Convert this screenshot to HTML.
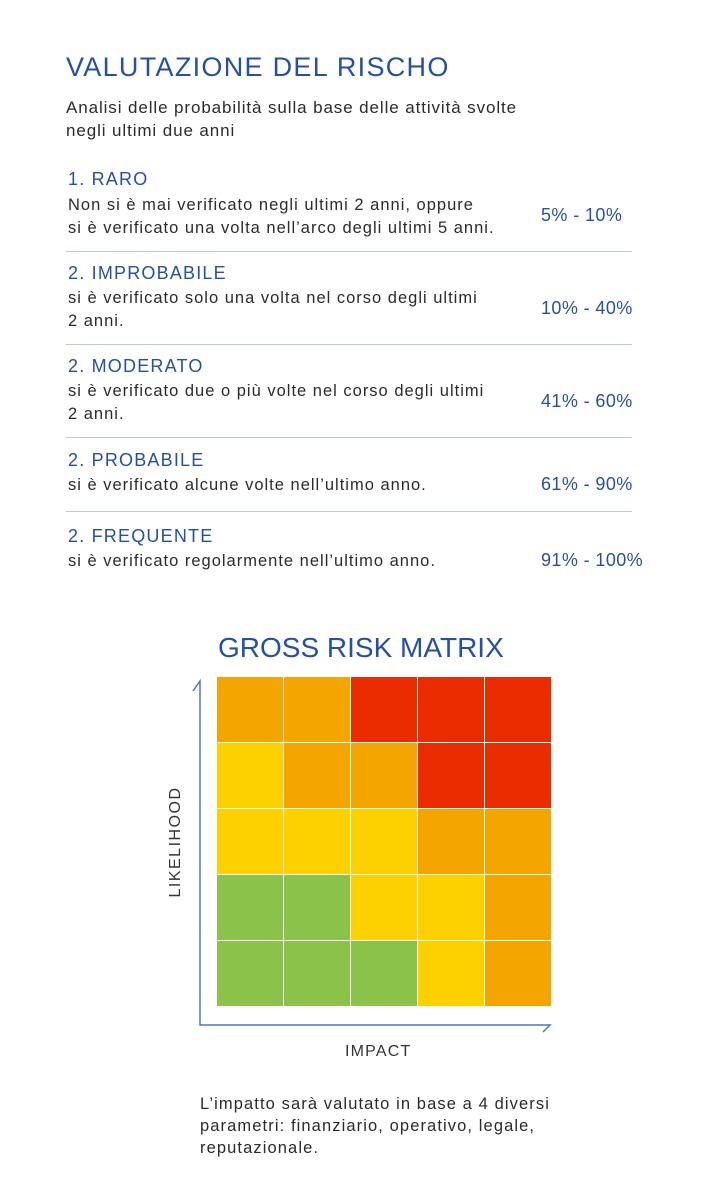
<!DOCTYPE html>
<html><head><meta charset="utf-8"><style>
body{margin:0;width:724px;height:1200px;background:#fff;position:relative;font-family:"Liberation Sans",sans-serif;overflow:hidden}
.a{position:absolute;white-space:nowrap}
.b{color:#2451a6}
.t{color:#2b2b2b;font-size:16.5px;line-height:23px;letter-spacing:1px}
.h{font-size:18px;letter-spacing:1.2px}
.p{font-size:18px;color:#2451a6;letter-spacing:0.4px}
.sep{position:absolute;left:66px;width:566px;height:1px;background:#b9c8e6}
</style></head><body>
<div class="a b" style="left:66px;top:52px;font-size:27px;letter-spacing:1.3px">VALUTAZIONE DEL RISCHO</div>
<div class="a t" style="left:66px;top:96px;font-size:17px;letter-spacing:0.9px">Analisi delle probabilità sulla base delle attività svolte<br>negli ultimi due anni</div>

<div class="a b h" style="left:68px;top:169px">1. RARO</div>
<div class="a t" style="left:68px;top:194px">Non si è mai verificato negli ultimi 2 anni, oppure<br>si è verificato una volta nell’arco degli ultimi 5 anni.</div>
<div class="a p" style="left:541px;top:205px">5% - 10%</div>
<div class="sep" style="top:251px"></div>

<div class="a b h" style="left:68px;top:263px">2. IMPROBABILE</div>
<div class="a t" style="left:68px;top:287px">si è verificato solo una volta nel corso degli ultimi<br>2 anni.</div>
<div class="a p" style="left:541px;top:298px">10% - 40%</div>
<div class="sep" style="top:344px"></div>

<div class="a b h" style="left:68px;top:356px">2. MODERATO</div>
<div class="a t" style="left:68px;top:380px">si è verificato due o più volte nel corso degli ultimi<br>2 anni.</div>
<div class="a p" style="left:541px;top:391px">41% - 60%</div>
<div class="sep" style="top:437px"></div>

<div class="a b h" style="left:68px;top:450px">2. PROBABILE</div>
<div class="a t" style="left:68px;top:474px">si è verificato alcune volte nell’ultimo anno.</div>
<div class="a p" style="left:541px;top:474px">61% - 90%</div>
<div class="sep" style="top:511px"></div>

<div class="a b h" style="left:68px;top:526px">2. FREQUENTE</div>
<div class="a t" style="left:68px;top:550px">si è verificato regolarmente nell’ultimo anno.</div>
<div class="a p" style="left:541px;top:550px">91% - 100%</div>

<div class="a b" style="left:218px;top:632px;font-size:28px">GROSS RISK MATRIX</div>

<svg class="a" style="left:0;top:0" width="724" height="1200">
<g stroke="#4a78c8" stroke-width="1.5" fill="none">
<polyline points="193,691 200,681 200,1025 550,1025 543,1032"/>
</g>
</svg>
<div class="a" style="left:217px;top:677px;width:335px;height:330px;background:#fff">
<div style="display:grid;grid-template-columns:repeat(5,66px);grid-template-rows:repeat(5,65px);gap:1px">
<div style="background:#f5a500"></div><div style="background:#f5a500"></div><div style="background:#ea2c00"></div><div style="background:#ea2c00"></div><div style="background:#ea2c00"></div>
<div style="background:#fdd000"></div><div style="background:#f5a500"></div><div style="background:#f5a500"></div><div style="background:#ea2c00"></div><div style="background:#ea2c00"></div>
<div style="background:#fdd000"></div><div style="background:#fdd000"></div><div style="background:#fdd000"></div><div style="background:#f5a500"></div><div style="background:#f5a500"></div>
<div style="background:#8bc34a"></div><div style="background:#8bc34a"></div><div style="background:#fdd000"></div><div style="background:#fdd000"></div><div style="background:#f5a500"></div>
<div style="background:#8bc34a"></div><div style="background:#8bc34a"></div><div style="background:#8bc34a"></div><div style="background:#fdd000"></div><div style="background:#f5a500"></div>
</div></div>
<div class="a" style="left:176px;top:842px;transform:translate(-50%,-50%) rotate(-90deg);font-size:16px;color:#333;letter-spacing:1.5px">LIKELIHOOD</div>
<div class="a" style="left:345px;top:1043px;font-size:16px;color:#333;letter-spacing:1.2px">IMPACT</div>
<div class="a t" style="left:200px;top:1093px;font-size:16.5px;line-height:22px;letter-spacing:1.1px">L’impatto sarà valutato in base a 4 diversi<br>parametri: finanziario, operativo, legale,<br>reputazionale.</div>
</body></html>
